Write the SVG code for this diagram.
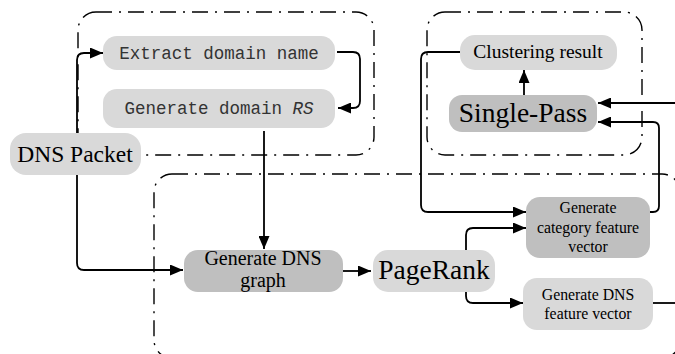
<svg xmlns="http://www.w3.org/2000/svg" width="675" height="354" viewBox="0 0 675 354">
<style>
.box{fill:none;stroke:#000;stroke-width:1.4;stroke-dasharray:16 7 2 7}
.lt{fill:#d9d9d9}
.dk{fill:#bfbfbf}
.c{fill:none;stroke:#000;stroke-width:1.8}
.serif{font-family:"Liberation Serif","Times New Roman",serif;fill:#000;text-anchor:middle}
.mono{font-family:"Liberation Mono","Courier New",monospace;fill:#333;text-anchor:middle;font-size:17.5px}
</style>
<defs>
<marker id="ah" markerUnits="userSpaceOnUse" markerWidth="13" markerHeight="11" refX="13" refY="5.5" orient="auto">
<path d="M0,0 L13,5.5 L0,11 z" fill="#000"/>
</marker>
</defs>
<g id="containers">
<rect class="box" x="78" y="12" width="296" height="143" rx="18"/>
<rect class="box" x="427" y="12" width="215" height="143" rx="18"/>
<rect class="box" x="154" y="174" width="526" height="184" rx="18"/>
</g>
<g id="connectors">
<path class="c" d="M77 133 V60 Q77 53 84 53 H103" marker-end="url(#ah)"/>
<path class="c" d="M77 175 V263 Q77 270 84 270 H183" marker-end="url(#ah)"/>
<path class="c" d="M337 52 H353 Q360 52 360 59 V101 Q360 108 353 108 H338" marker-end="url(#ah)"/>
<path class="c" d="M264 131 V249" marker-end="url(#ah)"/>
<path class="c" d="M343 271 H371" marker-end="url(#ah)"/>
<path class="c" d="M466 250 V235 Q466 228 473 228 H526" marker-end="url(#ah)"/>
<path class="c" d="M466 292 V296 Q466 303 473 303 H523" marker-end="url(#ah)"/>
<path class="c" d="M653 303 H675"/>
<path class="c" d="M460 52 H428 Q421 52 421 59 V205 Q421 212 428 212 H526" marker-end="url(#ah)"/>
<path class="c" d="M650 212 H653 Q659 212 659 206 V128 Q659 122 653 122 H598" marker-end="url(#ah)"/>
<path class="c" d="M675 103 H598" marker-end="url(#ah)"/>
<path class="c" d="M524 95 V70" marker-end="url(#ah)"/>
</g>
<g id="extract">
<rect class="lt" x="103" y="36" width="232" height="34" rx="14"/>
<text class="mono" x="219" y="59">Extract domain name</text>
</g>
<g id="generate-rs">
<rect class="lt" x="103" y="89" width="232" height="39" rx="14"/>
<text class="mono" x="219" y="114">Generate domain <tspan font-style="italic">RS</tspan></text>
</g>
<g id="dns-packet">
<rect class="lt" x="10" y="133" width="131" height="42" rx="16"/>
<text class="serif" x="75" y="162" font-size="23.5">DNS Packet</text>
</g>
<g id="clustering">
<rect class="lt" x="460" y="35" width="157" height="35" rx="15"/>
<text class="serif" x="538" y="58" font-size="19.5">Clustering result</text>
</g>
<g id="single-pass">
<rect class="dk" x="449" y="95" width="148" height="37" rx="13"/>
<text class="serif" x="523" y="122" font-size="27.5">Single-Pass</text>
</g>
<g id="dns-graph">
<rect class="dk" x="184" y="250" width="159" height="42" rx="14"/>
<text class="serif" x="263" y="265" font-size="20">Generate DNS</text>
<text class="serif" x="263" y="287" font-size="20">graph</text>
</g>
<g id="pagerank">
<rect class="lt" x="373" y="250" width="122" height="42" rx="15"/>
<text class="serif" x="434" y="279" font-size="27.5">PageRank</text>
</g>
<g id="category">
<rect class="dk" x="526" y="197" width="124" height="61" rx="14"/>
<text class="serif" x="588" y="213" font-size="15.8">Generate</text>
<text class="serif" x="588" y="233" font-size="15.8">category feature</text>
<text class="serif" x="588" y="252" font-size="15.8">vector</text>
</g>
<g id="dns-feature">
<rect class="lt" x="523" y="278" width="130" height="52" rx="14"/>
<text class="serif" x="588" y="300" font-size="15.8">Generate DNS</text>
<text class="serif" x="588" y="319" font-size="15.8">feature vector</text>
</g>
</svg>
